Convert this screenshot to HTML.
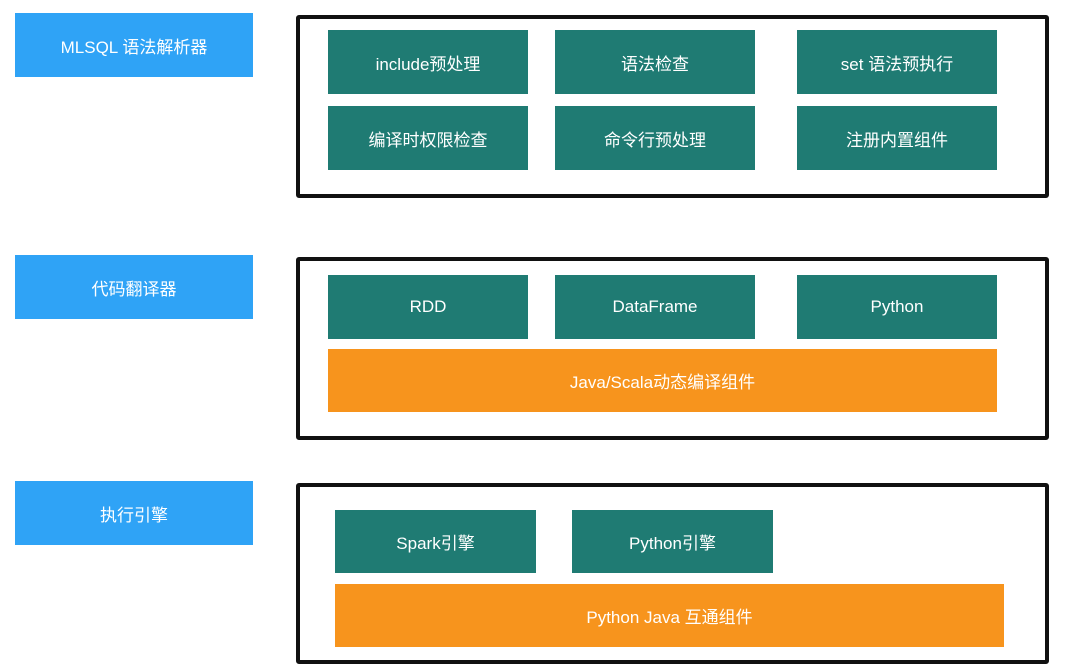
<!DOCTYPE html>
<html><head><meta charset="utf-8"><style>
body{margin:0;width:1080px;height:670px;background:#fff;position:relative;overflow:hidden;font-family:"Liberation Sans","Noto Sans CJK SC",sans-serif;}
div.b{position:absolute;display:flex;align-items:center;justify-content:center;color:#fff;font-size:17px;}
.l{background:#2fa3f6;}
.t{background:#1f7b73;}
.o{background:#f7941d;}
.f{position:absolute;border:4px solid #111;border-radius:3px;box-sizing:border-box;}
</style></head><body>
<div class="b l" style="left:15px;top:13px;width:238px;height:64px">MLSQL 语法解析器</div>
<div class="b l" style="left:15px;top:255px;width:238px;height:64px">代码翻译器</div>
<div class="b l" style="left:15px;top:481px;width:238px;height:64px">执行引擎</div>

<div class="f" style="left:296px;top:15px;width:753px;height:183px"></div>
<div class="b t" style="left:328px;top:30px;width:200px;height:64px">include预处理</div>
<div class="b t" style="left:555px;top:30px;width:200px;height:64px">语法检查</div>
<div class="b t" style="left:797px;top:30px;width:200px;height:64px">set 语法预执行</div>
<div class="b t" style="left:328px;top:106px;width:200px;height:64px">编译时权限检查</div>
<div class="b t" style="left:555px;top:106px;width:200px;height:64px">命令行预处理</div>
<div class="b t" style="left:797px;top:106px;width:200px;height:64px">注册内置组件</div>

<div class="f" style="left:296px;top:257px;width:753px;height:183px"></div>
<div class="b t" style="left:328px;top:275px;width:200px;height:64px">RDD</div>
<div class="b t" style="left:555px;top:275px;width:200px;height:64px">DataFrame</div>
<div class="b t" style="left:797px;top:275px;width:200px;height:64px">Python</div>
<div class="b o" style="left:328px;top:349px;width:669px;height:63px">Java/Scala动态编译组件</div>

<div class="f" style="left:296px;top:483px;width:753px;height:181px"></div>
<div class="b t" style="left:335px;top:510px;width:201px;height:63px">Spark引擎</div>
<div class="b t" style="left:572px;top:510px;width:201px;height:63px">Python引擎</div>
<div class="b o" style="left:335px;top:584px;width:669px;height:63px">Python Java 互通组件</div>
</body></html>
